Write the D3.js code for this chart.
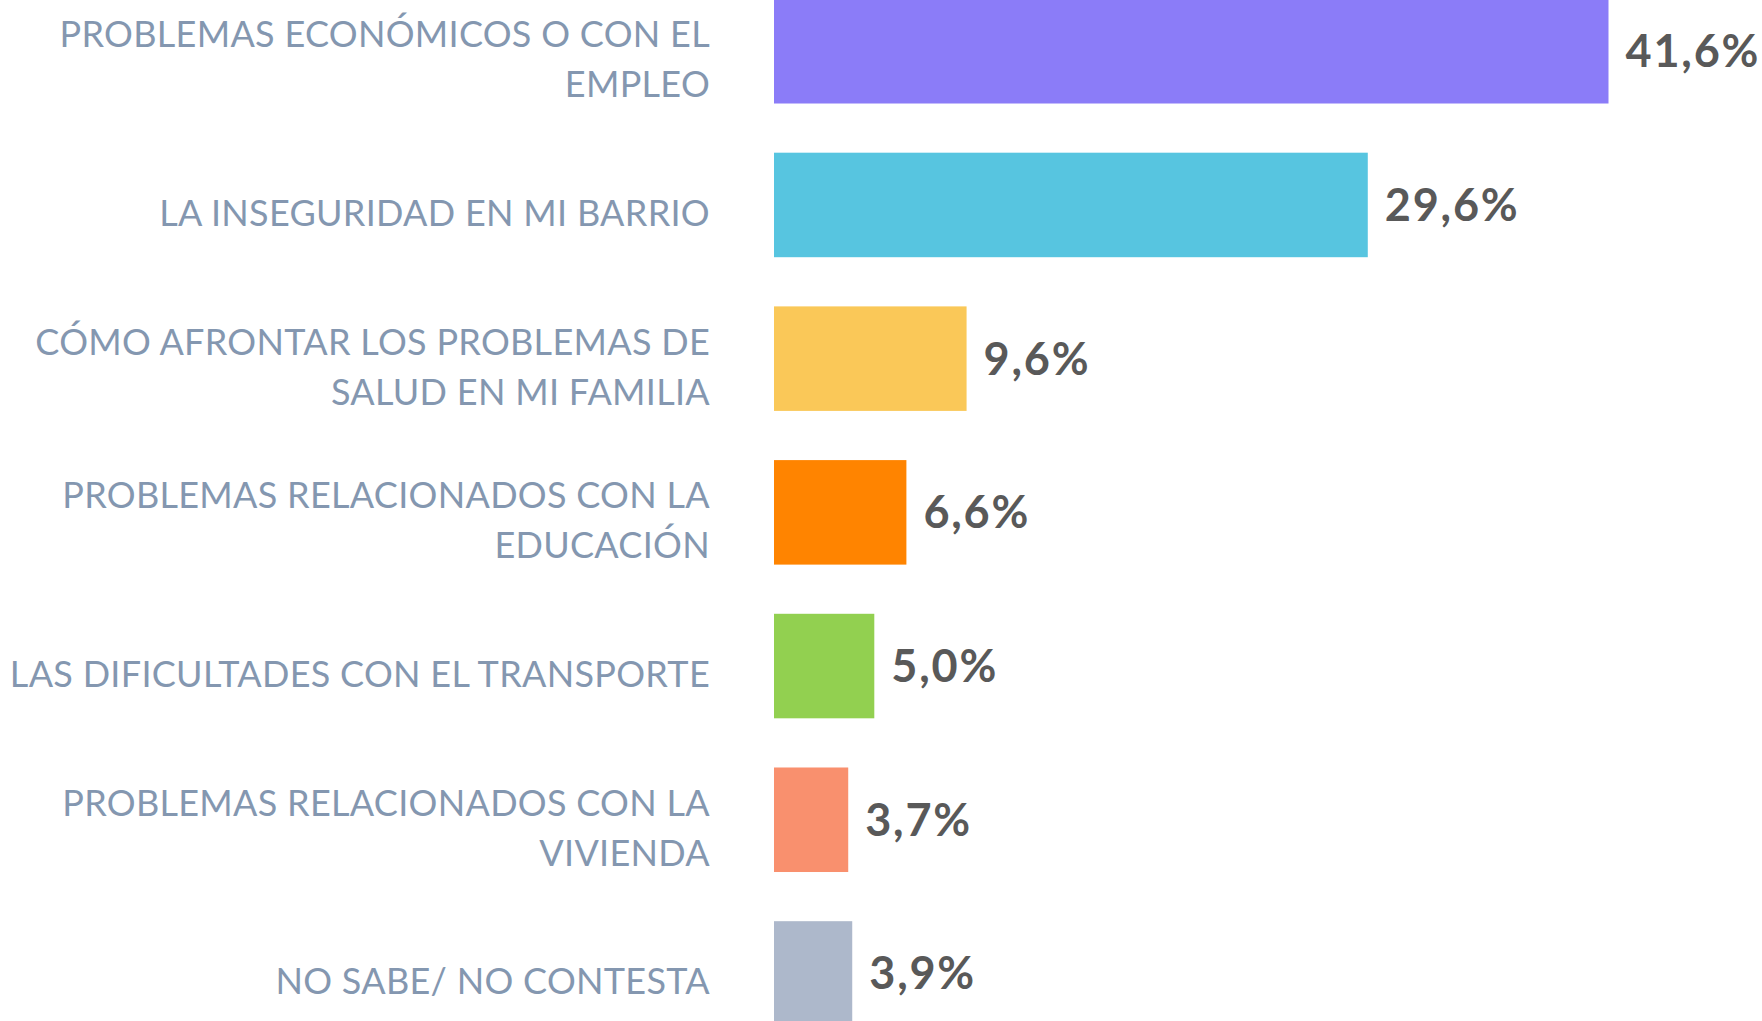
<!DOCTYPE html>
<html>
<head>
<meta charset="utf-8">
<script src="https://cdn.jsdelivr.net/npm/d3@7"></script>
<style>
  body { margin: 0; background: #fff; overflow: hidden; }
  .cat { font-family: Lato, "Noto Sans", sans-serif; fill: #8497b0; letter-spacing: 0.3px; }
  .val { font-family: Lato, "Noto Sans", sans-serif; font-weight: bold; fill: #595959; letter-spacing: 1.8px; }
</style>
</head>
<body>
<div id="graph1"></div>
<script>
// data
var categories = [
  "PROBLEMAS ECONÓMICOS O CON EL\nEMPLEO",
  "LA INSEGURIDAD EN MI BARRIO",
  "CÓMO AFRONTAR LOS PROBLEMAS DE\nSALUD EN MI FAMILIA",
  "PROBLEMAS RELACIONADOS CON LA\nEDUCACIÓN",
  "LAS DIFICULTADES CON EL TRANSPORTE",
  "PROBLEMAS RELACIONADOS CON LA\nVIVIENDA",
  "NO SABE/ NO CONTESTA"
];
var values = [41.6, 29.6, 9.6, 6.6, 5.0, 3.7, 3.9];
var colors = ["#8b7cf8", "#57c5e0", "#fac858", "#ff8400", "#92d050", "#f9906e", "#adb8cb"];

var width = 1762, height = 1021;

var svg = d3.select("#graph1")
  .append("svg")
    .attr("width", width)
    .attr("height", height);

// Set the ranges
var x = d3.scaleLinear().domain([0, 41.6]).range([774, 1608.5]);
var y = d3.scaleBand()
  .domain(d3.range(categories.length))
  .range([-25.6, -25.6 + 7 * 153.7])
  .paddingInner(0.32)
  .paddingOuter(0.16);

// bars
svg.selectAll("rect.bar")
  .data(values)
  .enter().append("rect")
    .attr("class", "bar")
    .attr("x", x(0))
    .attr("y", function(d, i) { return y(i); })
    .attr("width", function(d) { return x(d) - x(0); })
    .attr("height", y.bandwidth())
    .attr("fill", function(d, i) { return colors[i]; });

// value labels
svg.selectAll("text.val")
  .data(values)
  .enter().append("text")
    .attr("class", "val")
    .attr("x", function(d) { return x(d) + 17; })
    .attr("y", function(d, i) { return y(i) + y.bandwidth() / 2 + 16; })
    .attr("font-size", 45)
    .text(function(d) { return d.toFixed(1).replace(".", ",") + "%"; });

// category labels (right aligned, may span two lines)
var cat = svg.selectAll("text.cat")
  .data(categories)
  .enter().append("text")
    .attr("class", "cat")
    .attr("text-anchor", "end")
    .attr("font-size", 36);

cat.each(function(d, i) {
  var lines = d.split("\n");
  var mid = y(i) + y.bandwidth() / 2;
  d3.select(this).selectAll("tspan")
    .data(lines)
    .enter().append("tspan")
      .attr("x", 710)
      .attr("y", function(l, j) { return mid + 21 + (j - (lines.length - 1) / 2) * 50; })
      .text(function(l) { return l; });
});
</script>
</body>
</html>
